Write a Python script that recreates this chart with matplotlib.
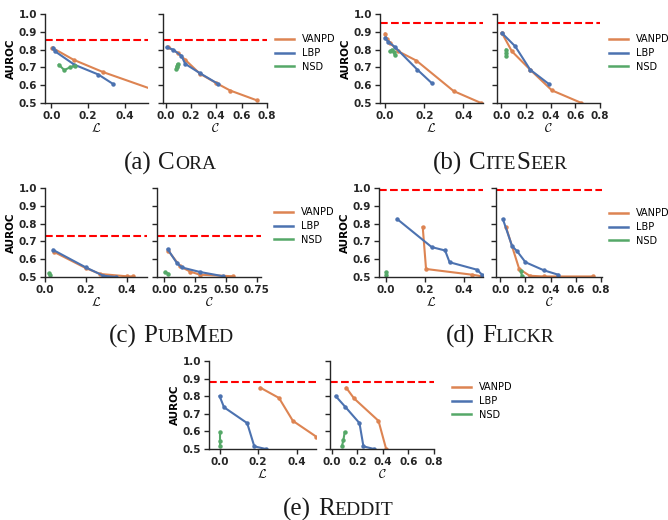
import matplotlib
matplotlib.use("Agg")
import matplotlib.pyplot as plt
from matplotlib.offsetbox import TextArea, HPacker, DrawingArea, AnnotationBbox

plt.rcParams.update({
    "font.family": "DejaVu Sans",
    "mathtext.fontset": "cm",
    "axes.edgecolor": "0.15",
    "xtick.color": "0.15",
    "ytick.color": "0.15",
    "axes.linewidth": 1.0,
})

# ---------------- data ----------------
methods = ["VANPD", "LBP", "NSD"]
colors = ["#DD8452", "#4C72B0", "#55A868"]
y_ticks = [0.5, 0.6, 0.7, 0.8, 0.9, 1.0]
x_ticks_L = [0.0, 0.2, 0.4]
x_ticks_C = [0.0, 0.2, 0.4, 0.6, 0.8]
x_ticks_C_pubmed = [0.0, 0.25, 0.5, 0.75]

# Cora
cora_ref = 0.855
cora_L_vanpd_x = [0.005, 0.12, 0.28, 0.60]
cora_L_vanpd_y = [0.81, 0.743, 0.674, 0.558]
cora_L_lbp_x = [0.01, 0.02, 0.125, 0.255, 0.335]
cora_L_lbp_y = [0.81, 0.79, 0.715, 0.66, 0.607]
cora_L_nsd_x = [0.04, 0.07, 0.10, 0.13]
cora_L_nsd_y = [0.715, 0.685, 0.70, 0.71]
cora_C_vanpd_x = [0.02, 0.10, 0.155, 0.27, 0.40, 0.51, 0.72]
cora_C_vanpd_y = [0.813, 0.78, 0.743, 0.665, 0.612, 0.57, 0.515]
cora_C_lbp_x = [0.01, 0.06, 0.125, 0.155, 0.27, 0.415]
cora_C_lbp_y = [0.813, 0.80, 0.765, 0.72, 0.668, 0.607]
cora_C_nsd_x = [0.085, 0.09, 0.095, 0.09]
cora_C_nsd_y = [0.69, 0.70, 0.72, 0.71]

# CiteSeer
cite_ref = 0.95
cite_L_vanpd_x = [0.0, 0.008, 0.026, 0.068, 0.16, 0.35, 0.49]
cite_L_vanpd_y = [0.89, 0.86, 0.837, 0.79, 0.738, 0.567, 0.5]
cite_L_lbp_x = [0.0, 0.017, 0.05, 0.165, 0.24]
cite_L_lbp_y = [0.865, 0.843, 0.815, 0.687, 0.61]
cite_L_nsd_x = [0.025, 0.035, 0.045, 0.05]
cite_L_nsd_y = [0.79, 0.80, 0.785, 0.768]
cite_C_vanpd_x = [0.005, 0.086, 0.234, 0.41, 0.65]
cite_C_vanpd_y = [0.893, 0.79, 0.687, 0.571, 0.5]
cite_C_lbp_x = [0.005, 0.113, 0.234, 0.383]
cite_C_lbp_y = [0.893, 0.818, 0.687, 0.608]
cite_C_nsd_x = [0.038, 0.038, 0.04]
cite_C_nsd_y = [0.80, 0.78, 0.766]

# PubMed
pub_ref = 0.73
pub_L_vanpd_x = [0.046, 0.2, 0.27, 0.4, 0.43]
pub_L_vanpd_y = [0.64, 0.55, 0.517, 0.504, 0.503]
pub_L_lbp_x = [0.04, 0.2, 0.286, 0.35]
pub_L_lbp_y = [0.652, 0.554, 0.507, 0.5]
pub_L_nsd_x = [0.02, 0.025]
pub_L_nsd_y = [0.52, 0.51]
pub_C_vanpd_x = [0.033, 0.128, 0.21, 0.29, 0.56]
pub_C_vanpd_y = [0.646, 0.56, 0.53, 0.513, 0.504]
pub_C_lbp_x = [0.027, 0.10, 0.14, 0.29, 0.48]
pub_C_lbp_y = [0.656, 0.58, 0.554, 0.528, 0.504]
pub_C_nsd_x = [0.005, 0.033]
pub_C_nsd_y = [0.526, 0.519]

# Flickr
fl_ref = 0.99
fl_L_vanpd_x = [0.19, 0.207, 0.443, 0.5]
fl_L_vanpd_y = [0.78, 0.545, 0.513, 0.503]
fl_L_lbp_x = [0.059, 0.236, 0.305, 0.328, 0.469, 0.495]
fl_L_lbp_y = [0.825, 0.668, 0.649, 0.583, 0.541, 0.513]
fl_L_nsd_x = [0.0, 0.0]
fl_L_nsd_y = [0.526, 0.51]
fl_C_vanpd_x = [0.045, 0.15, 0.233, 0.345, 0.74]
fl_C_vanpd_y = [0.78, 0.545, 0.507, 0.503, 0.503]
fl_C_lbp_x = [0.02, 0.093, 0.133, 0.2, 0.345, 0.46]
fl_C_lbp_y = [0.825, 0.674, 0.645, 0.583, 0.538, 0.513]
fl_C_nsd_x = [0.165, 0.17]
fl_C_nsd_y = [0.532, 0.508]

# Reddit
rd_ref = 0.88
rd_L_vanpd_x = [0.212, 0.308, 0.38, 0.5]
rd_L_vanpd_y = [0.848, 0.79, 0.66, 0.571]
rd_L_lbp_x = [0.0, 0.023, 0.143, 0.18, 0.24]
rd_L_lbp_y = [0.80, 0.737, 0.647, 0.515, 0.5]
rd_L_nsd_x = [0.0, 0.0, 0.0]
rd_L_nsd_y = [0.594, 0.547, 0.519]
rd_C_vanpd_x = [0.112, 0.174, 0.365, 0.425]
rd_C_vanpd_y = [0.848, 0.787, 0.66, 0.5]
rd_C_lbp_x = [0.03, 0.104, 0.216, 0.247, 0.33]
rd_C_lbp_y = [0.80, 0.74, 0.647, 0.515, 0.5]
rd_C_nsd_x = [0.078, 0.09, 0.1]
rd_C_nsd_y = [0.515, 0.55, 0.596]

# ---------------- layout ----------------
W, H = 668, 520
fig = plt.figure(figsize=(W / 100, H / 100), dpi=100)


def rect(x0, x1, ytop, ybot):
    return [x0 / W, 1 - ybot / H, (x1 - x0) / W, (ybot - ytop) / H]


def draw(ax, series, ref, xlim, xticks, xlabel, first):
    ax.axhline(ref, color="red", ls="--", lw=1.5, zorder=1)
    for (xs, ys), c, m in zip(series, colors, methods):
        ax.plot(xs, ys, color=c, lw=1.5, marker="o", ms=2.2, label=m, zorder=2)
    ax.set_xlim(*xlim)
    ax.set_ylim(0.5, 1.0)
    ax.set_yticks(y_ticks)
    ax.set_xticks(xticks)
    if xticks is x_ticks_C_pubmed:
        ax.set_xticklabels(["0.00", "0.25", "0.50", "0.75"])
    else:
        ax.set_xticklabels([f"{t:.1f}" for t in xticks])
    ax.set_yticklabels([f"{t:.1f}" for t in y_ticks])
    for s in ("top", "right"):
        ax.spines[s].set_visible(False)
    ax.tick_params(direction="out", length=3.5, width=1.0, pad=2)
    for lab in ax.get_xticklabels() + ax.get_yticklabels():
        lab.set_fontweight("bold")
        lab.set_fontsize(7.5)
    ax.set_xlabel(xlabel, fontsize=9, labelpad=1)
    if first:
        ax.set_ylabel("AUROC", fontsize=7.5, fontweight="bold", labelpad=2)
    else:
        ax.tick_params(labelleft=False)


def legend(ax, x, y):
    leg = ax.legend(loc="center left", bbox_to_anchor=(x / W, 1 - y / H),
                    bbox_transform=fig.transFigure, frameon=False,
                    fontsize=7, handlelength=2.0, handletextpad=0.75,
                    labelspacing=0.4, borderpad=0, borderaxespad=0)
    for l in leg.get_lines():
        l.set_linewidth(1.8)
        l.set_marker("")


def caption(xc, yc, parts):
    kids = []
    for txt, big in parts:
        if txt == " ":
            kids.append(DrawingArea(5, 0))
        else:
            kids.append(TextArea(txt, textprops=dict(
                fontsize=18 if big else 14, family="Liberation Serif",
                color="0.1")))
    box = HPacker(children=kids, align="baseline", pad=0, sep=0)
    ab = AnnotationBbox(box, (xc / W, 1 - yc / H), xycoords="figure fraction",
                        frameon=False, box_alignment=(0.5, 0.5))
    fig.add_artist(ab)


Lx = r"$\mathcal{L}$"
Cx = r"$\mathcal{C}$"

panels = [
    (rect(45, 148, 14, 103), rect(163, 267, 14, 103), cora_ref,
     [(cora_L_vanpd_x, cora_L_vanpd_y), (cora_L_lbp_x, cora_L_lbp_y), (cora_L_nsd_x, cora_L_nsd_y)],
     [(cora_C_vanpd_x, cora_C_vanpd_y), (cora_C_lbp_x, cora_C_lbp_y), (cora_C_nsd_x, cora_C_nsd_y)],
     (-0.035, 0.525), (-0.02, 0.8), x_ticks_C, (275, 53)),
    (rect(380, 483, 14, 103), rect(497, 600, 14, 103), cite_ref,
     [(cite_L_vanpd_x, cite_L_vanpd_y), (cite_L_lbp_x, cite_L_lbp_y), (cite_L_nsd_x, cite_L_nsd_y)],
     [(cite_C_vanpd_x, cite_C_vanpd_y), (cite_C_lbp_x, cite_C_lbp_y), (cite_C_nsd_x, cite_C_nsd_y)],
     (-0.026, 0.5), (-0.035, 0.8), x_ticks_C, (609, 53)),
    (rect(45, 147, 188, 277), rect(157, 261, 188, 277), pub_ref,
     [(pub_L_vanpd_x, pub_L_vanpd_y), (pub_L_lbp_x, pub_L_lbp_y), (pub_L_nsd_x, pub_L_nsd_y)],
     [(pub_C_vanpd_x, pub_C_vanpd_y), (pub_C_lbp_x, pub_C_lbp_y), (pub_C_nsd_x, pub_C_nsd_y)],
     (0.0, 0.5), (-0.06, 0.785), x_ticks_C_pubmed, (274, 226)),
    (rect(379, 483, 188, 277), rect(496, 602, 188, 277), fl_ref,
     [(fl_L_vanpd_x, fl_L_vanpd_y), (fl_L_lbp_x, fl_L_lbp_y), (fl_L_nsd_x, fl_L_nsd_y)],
     [(fl_C_vanpd_x, fl_C_vanpd_y), (fl_C_lbp_x, fl_C_lbp_y), (fl_C_nsd_x, fl_C_nsd_y)],
     (-0.035, 0.5), (-0.035, 0.81), x_ticks_C, (609, 227)),
    (rect(209, 316, 361, 449), rect(330, 434, 361, 449), rd_ref,
     [(rd_L_vanpd_x, rd_L_vanpd_y), (rd_L_lbp_x, rd_L_lbp_y), (rd_L_nsd_x, rd_L_nsd_y)],
     [(rd_C_vanpd_x, rd_C_vanpd_y), (rd_C_lbp_x, rd_C_lbp_y), (rd_C_nsd_x, rd_C_nsd_y)],
     (-0.055, 0.5), (-0.015, 0.8), x_ticks_C, (452, 401)),
]

for rl, rc, ref, sl, sc, xl, xc, ctk, lp in panels:
    axL = fig.add_axes(rl)
    axC = fig.add_axes(rc)
    draw(axL, sl, ref, xl, x_ticks_L, Lx, True)
    draw(axC, sc, ref, xc, ctk, Cx, False)
    legend(axC, *lp)

caption(170, 163, [("(a)", True), (" ", True), ("C", True), ("ORA", False)])
caption(500, 163, [("(b)", True), (" ", True), ("C", True), ("ITE", False), ("S", True), ("EER", False)])
caption(171, 336, [("(c)", True), (" ", True), ("P", True), ("UB", False), ("M", True), ("ED", False)])
caption(500, 336, [("(d)", True), (" ", True), ("F", True), ("LICKR", False)])
caption(338, 509, [("(e)", True), (" ", True), ("R", True), ("EDDIT", False)])

fig.savefig("out.png", dpi=100)
